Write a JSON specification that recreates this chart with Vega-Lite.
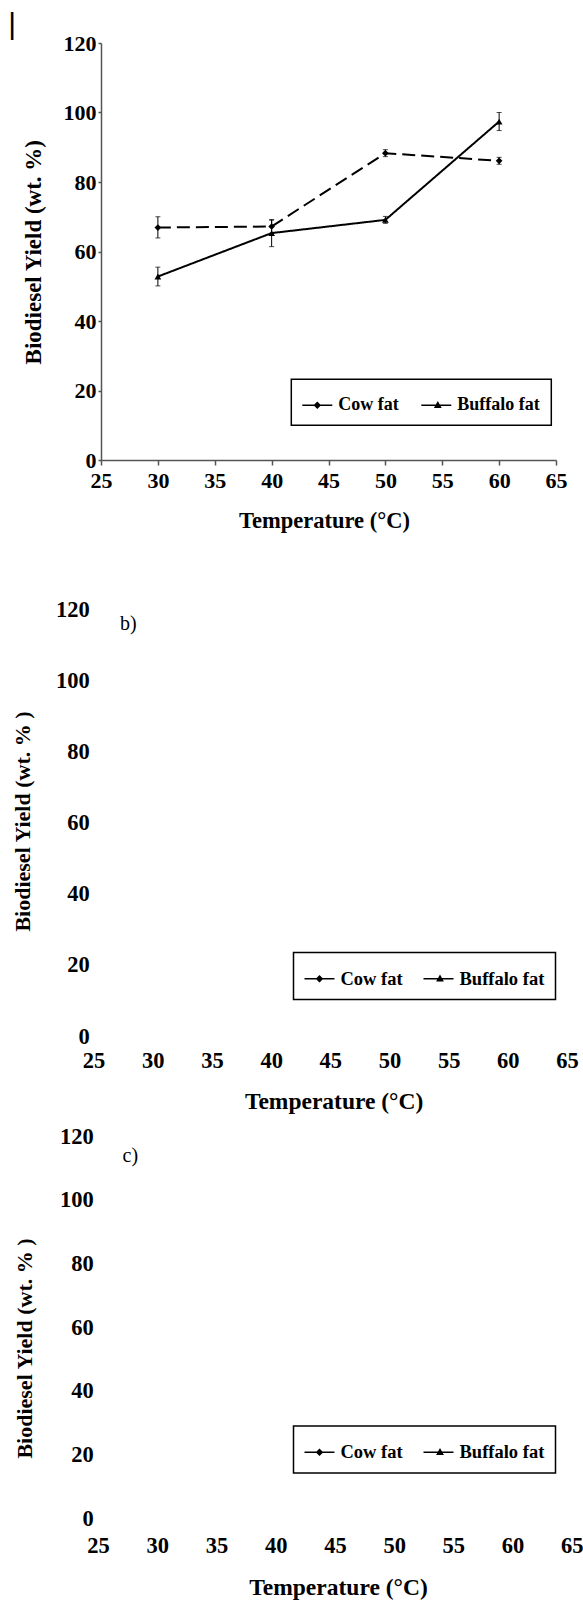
{
  "$schema": "https://vega.github.io/schema/vega-lite/v6.json",
  "autosize": {"type": "pad"},
  "padding": {"left": 8, "top": 10, "right": 0, "bottom": 0},
  "background": "white",
  "title": {"text": "|", "anchor": "start", "frame": "bounds", "fontSize": 30, "font": "Liberation Sans", "fontWeight": "normal", "color": "black", "baseline": "top", "offset": -8, "dx": -3},
  "config": {
    "view": {"stroke": null},
    "font": "Liberation Serif",
    "axis": {"grid": false, "labelFont": "Liberation Serif", "labelFontWeight": "bold", "labelColor": "black", "titleFont": "Liberation Serif", "titleFontWeight": "bold", "titleColor": "black", "labelFontSize": 22, "titleFontSize": 23, "labelFlush": false, "labelOverlap": false, "labelBound": false},
    "legend": {"labelFont": "Liberation Serif", "labelFontWeight": "bold", "labelFontSize": 18, "labelColor": "black", "strokeColor": "black", "strokeWidth": 1.5, "fillColor": "white", "padding": 11, "symbolStrokeWidth": 0, "symbolFillColor": "black", "symbolSize": 900, "labelOffset": 6}
  },
  "bounds": "flush",
  "spacing": 0,
  "resolve": {"scale": {"shape": "independent"}, "legend": {"shape": "independent"}},
  "vconcat": [
    {
      "width": 455,
      "height": 417,
      "data": {"values": [
        {"series": "Cow fat", "T": 30, "y": 66.9, "lo": 63.9, "hi": 70.0},
        {"series": "Cow fat", "T": 40, "y": 67.2, "lo": 65.2, "hi": 69.2},
        {"series": "Cow fat", "T": 50, "y": 88.3, "lo": 87.3, "hi": 89.3},
        {"series": "Cow fat", "T": 60, "y": 86.1, "lo": 85.1, "hi": 87.1},
        {"series": "Buffalo fat", "T": 30, "y": 52.8, "lo": 50.1, "hi": 55.5},
        {"series": "Buffalo fat", "T": 40, "y": 65.3, "lo": 61.4, "hi": 69.0},
        {"series": "Buffalo fat", "T": 50, "y": 69.1, "lo": 68.1, "hi": 70.1},
        {"series": "Buffalo fat", "T": 60, "y": 97.4, "lo": 94.8, "hi": 100.0}
      ]},
      "encoding": {
        "x": {"field": "T", "type": "quantitative", "scale": {"domain": [25, 65], "nice": false, "zero": false},
          "axis": {"title": "Temperature (°C)", "values": [25, 30, 35, 40, 45, 50, 55, 60, 65], "domainColor": "#555555", "domainWidth": 1.5, "tickColor": "#555555", "tickWidth": 1.5, "tickSize": 5, "labelPadding": 5, "titleFontSize": 22.5, "titleX": 223, "titleY": 60, "titleBaseline": "middle", "titleAlign": "center"}}
      },
      "layer": [
        {
          "mark": {"type": "errorbar", "ticks": {"size": 5, "color": "black", "strokeWidth": 1}, "rule": {"strokeWidth": 1, "color": "black"}, "color": "black"},
          "encoding": {
            "y": {"field": "lo", "type": "quantitative", "title": "Biodiesel Yield (wt. %)", "scale": {"domain": [0, 120], "nice": false, "zero": false}},
            "y2": {"field": "hi"}
          }
        },
        {
          "mark": {"type": "line", "color": "black", "strokeWidth": 2},
          "encoding": {
            "y": {"field": "y", "type": "quantitative", "title": "Biodiesel Yield (wt. %)", "scale": {"domain": [0, 120], "nice": false, "zero": false},
              "axis": {"values": [0, 20, 40, 60, 80, 100, 120], "domainColor": "#555555", "domainWidth": 1.5, "tickColor": "#555555", "tickWidth": 1.5, "tickSize": 3, "labelPadding": 2, "titleFontSize": 23, "titleX": -67.7, "titleY": 208.7, "titleAngle": -90, "titleBaseline": "middle", "titleAlign": "center"}},
            "detail": {"field": "series"},
            "strokeDash": {"field": "series", "type": "nominal", "scale": {"domain": ["Cow fat", "Buffalo fat"], "range": [[13, 6], [1, 0]]}, "legend": null}
          }
        },
        {
          "mark": {"type": "point", "filled": true, "color": "black", "size": 45, "opacity": 1},
          "encoding": {
            "y": {"field": "y", "type": "quantitative", "title": "Biodiesel Yield (wt. %)"},
            "shape": {"field": "series", "type": "nominal", "scale": {"domain": ["Cow fat", "Buffalo fat"], "range": ["diamond", "triangle-up"]}, "legend": null}
          }
        },
        {
          "data": {"values": []},
          "mark": {"type": "point", "filled": true, "color": "black", "size": 900, "opacity": 1},
          "encoding": {
            "shape": {"field": "series", "type": "nominal", "scale": {"domain": ["Cow fat", "Buffalo fat"], "range": ["M-1,-0.05L1,-0.05L1,0.05L-1,0.05ZM0,-0.25L0.25,0L0,0.25L-0.25,0Z", "M-1,-0.05L1,-0.05L1,0.05L-1,0.05ZM0.1,-0.28L0.36,0.18L-0.16,0.18Z"]},
              "legend": {"title": null, "orient": "none", "legendX": 190.3, "legendY": 336.3, "direction": "horizontal", "columnPadding": 22,
                "encode": {"symbols": {"update": {"fill": {"value": "black"}, "opacity": {"value": 1}, "size": {"value": 900}}}}}}
          }
        },
        {
          "data": {"values": [{"label": "a)"}]},
          "mark": {"type": "text", "font": "Liberation Serif", "fontSize": 20, "fontWeight": "normal", "color": "black"},
          "encoding": {
            "x": {"datum": 27.4, "type": "quantitative"},
            "y": {"datum": 114, "type": "quantitative"},
            "text": {"field": "label"}
          }
        }
      ],
      "resolve": {"scale": {"shape": "independent"}, "legend": {"shape": "independent"}}
    },
    {
      "width": 455,
      "height": 587,
      "layer": [
        {
          "data": {"values": []},
          "mark": {"type": "point", "filled": true, "color": "black", "size": 900, "opacity": 1},
          "encoding": {
            "x": {"field": "T", "type": "quantitative", "scale": {"domain": [25, 65], "range": [-7.4, 466], "nice": false, "zero": false},
              "axis": {"title": "Temperature (°C)", "values": [25, 30, 35, 40, 45, 50, 55, 60, 65], "domain": false, "ticks": false, "labelPadding": 2, "labelFontSize": 22.5, "titleFontSize": 23.5, "titleX": 232.6, "titleY": 54, "titleBaseline": "middle", "titleAlign": "center"}},
            "y": {"field": "y", "type": "quantitative", "scale": {"domain": [0, 120], "range": [576, 149], "nice": false, "zero": false},
              "axis": {"title": "Biodiesel Yield (wt.  % )", "values": [0, 20, 40, 60, 80, 100, 120], "domain": false, "ticks": false, "labelPadding": 11.7, "labelFontSize": 22.5, "titleFontSize": 22, "titleX": -78.7, "titleY": 361, "titleAngle": -90, "titleBaseline": "middle", "titleAlign": "center"}},
            "shape": {"field": "series", "type": "nominal", "scale": {"domain": ["Cow fat", "Buffalo fat"], "range": ["M-1,-0.05L1,-0.05L1,0.05L-1,0.05ZM0,-0.25L0.25,0L0,0.25L-0.25,0Z", "M-1,-0.05L1,-0.05L1,0.05L-1,0.05ZM0.1,-0.28L0.36,0.18L-0.16,0.18Z"]},
              "legend": {"title": null, "orient": "none", "legendX": 192.5, "legendY": 492.5, "direction": "horizontal", "columnPadding": 20, "labelFontSize": 18.5,
                "encode": {"symbols": {"update": {"fill": {"value": "black"}, "opacity": {"value": 1}, "size": {"value": 900}}}}}}
          }
        },
        {
          "data": {"values": [{"label": "b)"}]},
          "mark": {"type": "text", "font": "Liberation Serif", "fontSize": 20, "fontWeight": "normal", "color": "black"},
          "encoding": {
            "x": {"datum": 27.93, "type": "quantitative"},
            "y": {"datum": 115.8, "type": "quantitative"},
            "text": {"field": "label"}
          }
        }
      ]
    },
    {
      "width": 455,
      "height": 485,
      "layer": [
        {
          "data": {"values": []},
          "mark": {"type": "point", "filled": true, "color": "black", "size": 900, "opacity": 1},
          "encoding": {
            "x": {"field": "T", "type": "quantitative", "scale": {"domain": [25, 65], "range": [-3, 470.8], "nice": false, "zero": false},
              "axis": {"title": "Temperature (°C)", "values": [25, 30, 35, 40, 45, 50, 55, 60, 65], "domain": false, "ticks": false, "labelPadding": 2, "labelFontSize": 22.5, "titleFontSize": 23.5, "titleX": 237, "titleY": 55.8, "titleBaseline": "middle", "titleAlign": "center"}},
            "y": {"field": "y", "type": "quantitative", "scale": {"domain": [0, 120], "range": [471.3, 89], "nice": false, "zero": false},
              "axis": {"title": "Biodiesel Yield (wt.  % )", "values": [0, 20, 40, 60, 80, 100, 120], "domain": false, "ticks": false, "labelPadding": 7.7, "labelFontSize": 22.5, "titleFontSize": 22, "titleX": -76.7, "titleY": 301, "titleAngle": -90, "titleBaseline": "middle", "titleAlign": "center"}},
            "shape": {"field": "series", "type": "nominal", "scale": {"domain": ["Cow fat", "Buffalo fat"], "range": ["M-1,-0.05L1,-0.05L1,0.05L-1,0.05ZM0,-0.25L0.25,0L0,0.25L-0.25,0Z", "M-1,-0.05L1,-0.05L1,0.05L-1,0.05ZM0.1,-0.28L0.36,0.18L-0.16,0.18Z"]},
              "legend": {"title": null, "orient": "none", "legendX": 192.5, "legendY": 379, "direction": "horizontal", "columnPadding": 20, "labelFontSize": 18.5,
                "encode": {"symbols": {"update": {"fill": {"value": "black"}, "opacity": {"value": 1}, "size": {"value": 900}}}}}}
          }
        },
        {
          "data": {"values": [{"label": "c)"}]},
          "mark": {"type": "text", "font": "Liberation Serif", "fontSize": 20, "fontWeight": "normal", "color": "black"},
          "encoding": {
            "x": {"datum": 27.73, "type": "quantitative"},
            "y": {"datum": 113.7, "type": "quantitative"},
            "text": {"field": "label"}
          }
        }
      ]
    }
  ]
}
